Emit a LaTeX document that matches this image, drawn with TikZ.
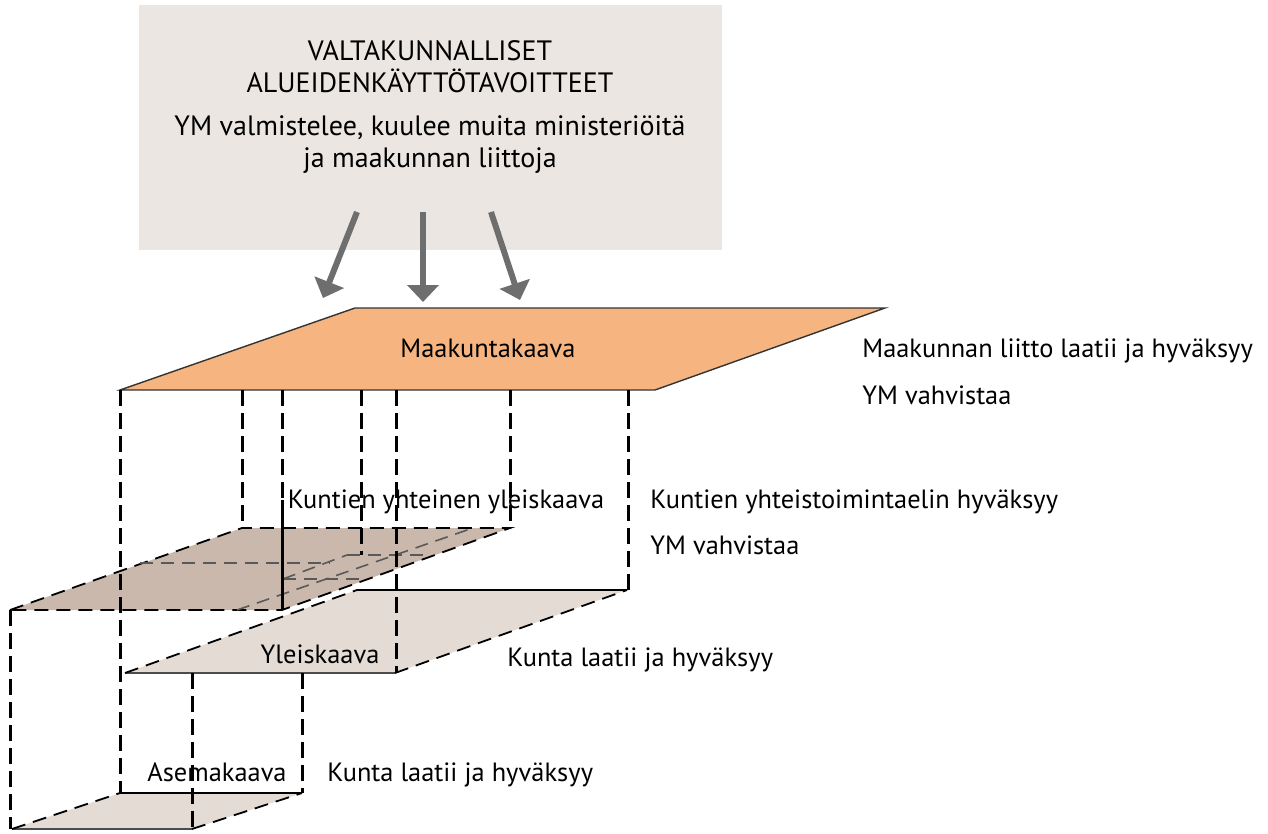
\documentclass[tikz,border=0pt]{standalone}
\usepackage{fontspec}
\setmainfont{PT Sans}
\usetikzlibrary{arrows.meta}

\definecolor{boxgray}{HTML}{EBE6E2}
\definecolor{maakcol}{HTML}{F6B580}
\definecolor{kuntcol}{HTML}{C9B8AB}
\definecolor{kaavacol}{HTML}{E3DBD4}
\definecolor{arrowgray}{HTML}{6E6E6E}

\tikzset{
	vdash/.style={black, line width=1.5pt, dash pattern=on 8pt off 3.5pt},
	edash/.style={black, line width=0.9pt, dash pattern=on 7pt off 4pt},
	hdash/.style={black!65, line width=0.8pt, dash pattern=on 6.5pt off 4pt},
	edgeline/.style={black, line width=0.8pt},
	txt/.style={font=\fontsize{13.2}{16}\selectfont, inner sep=0pt, text height=9pt, text depth=3pt},
	txtc/.style={font=\fontsize{14}{16}\selectfont, inner sep=0pt, align=center},
	flow/.style={arrowgray, line width=3pt, -{Triangle[width=15.5pt, length=8.5pt]}},
}

\begin{document}
\begin{tikzpicture}[x=0.5pt, y=-0.5pt]
		\useasboundingbox (0,0) rectangle (1268,834);

		% top box
		\fill [boxgray]	(139,5) rectangle (722,250);
		\node [txtc] (vat) at (430,67) {VALTAKUNNALLISET\\ALUEIDENKÄYTTÖTAVOITTEET};
		\node [txtc] (ym) at (430,145) {YM valmistelee, kuulee muita ministeriöitä\\ja maakunnan liittoja};

		% arrows
		\coordinate (a1s) at (357,212);	\coordinate (a1e) at (323,298);
		\coordinate (a2s) at (423,212);	\coordinate (a2e) at (423,302);
		\coordinate (a3s) at (491,212);	\coordinate (a3e) at (520,300);
		\draw [flow]	(a1s) -- (a1e);
		\draw [flow]	(a2s) -- (a2e);
		\draw [flow]	(a3s) -- (a3e);

		% Maakuntakaava
		\filldraw [fill=maakcol, draw=black!80, line width=0.7pt]	(120,390) -- (355,308) -- (885,308) -- (655,390) -- cycle;

		% Yleiskaava
		\fill [kaavacol]	(125,673) -- (357,590) -- (627,590) -- (395,673) -- cycle;
		\draw [edgeline]	(357,590) -- (627,590);
		\draw [edgeline, black!70]	(125,673) -- (395,673);
		\draw [edash]	(125,673) -- (357,590);
		\draw [edash]	(395,673) -- (627,590);

		% Asemakaava
		\fill [kaavacol]	(12,829) -- (120,793) -- (302,793) -- (192,829) -- cycle;
		\draw [edgeline]	(120,793) -- (302,793);
		\draw [edgeline, black!70]	(12,829) -- (192,829);
		\draw [edash]	(12,829) -- (120,793);
		\draw [edash]	(192,829) -- (302,793);

		% Kuntien yhteinen yleiskaava
		\fill [kuntcol]	(10,610) -- (242,528) -- (510,528) -- (282,610) -- cycle;
		\draw [edash]	(10,610) -- (242,528) -- (510,528) -- (282,610) -- cycle;
		\draw [hdash]	(140,563) -- (330,563);
		\draw [hdash]	(347,555) -- (425,555);
		\draw [hdash]	(283,579) -- (360,579);
		\draw [hdash]	(283,579) -- (347,555);
		\draw [hdash]	(237,610) -- (470,529);

		% verticals
		\foreach \x/\y in {120/793, 242/528, 282/610, 361/555, 396/673, 510/528, 628/590}
			\draw [vdash]	(\x,390) -- (\x,\y);
		\draw [black, line width=1.5pt]	(282,500) -- (282,610);
		\foreach \x/\ya/\yb in {10/610/829, 192/673/829, 302/673/793}
			\draw [vdash]	(\x,\ya) -- (\x,\yb);

		% labels
		\node [txt] (maak) at (488,351) {Maakuntakaava};
		\node [txt, anchor=west] (maakr1) at (862,351) {Maakunnan liitto laatii ja hyväksyy};
		\node [txt, anchor=west] (maakr2) at (862,398) {YM vahvistaa};
		\node [txt] (kunt) at (446,502) {Kuntien yhteinen yleiskaava};
		\node [txt, anchor=west] (kuntr1) at (650,502) {Kuntien yhteistoimintaelin hyväksyy};
		\node [txt, anchor=west] (kuntr2) at (650,548) {YM vahvistaa};
		\node [txt] (ylei) at (320,657) {Yleiskaava};
		\node [txt, anchor=west] (yleir) at (507,660) {Kunta laatii ja hyväksyy};
		\node [txt] (asem) at (217,775) {Asemakaava};
		\node [txt, anchor=west] (asemr) at (327,775) {Kunta laatii ja hyväksyy};
\end{tikzpicture}
\end{document}
